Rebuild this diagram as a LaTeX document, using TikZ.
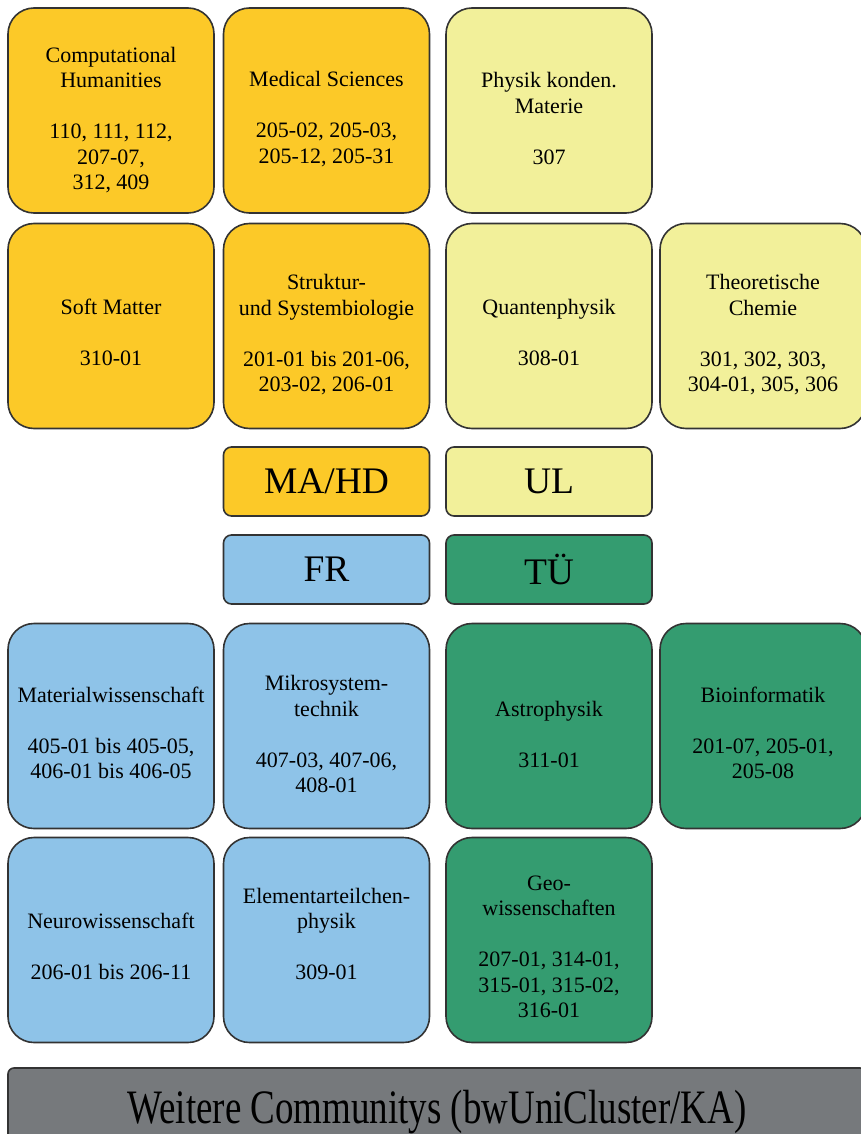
\documentclass[tikz,border=0pt]{standalone}
\usepackage{fontspec}
\setmainfont{Liberation Serif}
\usetikzlibrary{positioning}

\definecolor{mahdyellow}{RGB}{252,201,40}
\definecolor{ulyellow}{RGB}{242,240,154}
\definecolor{frblue}{RGB}{142,195,232}
\definecolor{tuegreen}{RGB}{52,156,112}
\definecolor{kagray}{RGB}{118,121,124}

\begin{document}
\begin{tikzpicture}[
    x=0.5pt, y=-0.5pt,
    every node/.style={font=\fontsize{11}{12.75}\selectfont},
    fieldbox/.style={draw=black!80, line width=0.8pt, rounded corners=13pt, minimum width=103pt, minimum height=102.5pt, inner sep=0pt},
    fieldtext/.style={align=center, inner sep=0pt},
    sitebox/.style={draw=black!80, line width=0.8pt, rounded corners=4pt, align=center, minimum width=103pt, minimum height=34.5pt, inner sep=0pt, font=\fontsize{18.75}{20}\selectfont},
    restbox/.style={draw=black!80, line width=0.8pt, rounded corners=3pt, align=center, minimum width=429pt, minimum height=44pt, inner sep=0pt, fill=kagray, font=\fontsize{24}{28}\selectfont}
]
\useasboundingbox (0,0) rectangle (861,1134);
\clip (0,0) rectangle (861,1134);

% MA/HD
\node[fieldbox, fill=mahdyellow] (comphum) at (111,110.5) {};
\node[fieldtext] (comphumtxt) at (111,120) {Computational\\Humanities\\[12.75pt]110, 111, 112,\\207-07,\\312, 409};
\node[fieldbox, fill=mahdyellow] (medsci) at (326.5,110.5) {};
\node[fieldtext] (medscitxt) at (326.5,119) {Medical Sciences\\[12.75pt]205-02, 205-03,\\205-12, 205-31};
\node[fieldbox, fill=mahdyellow] (softmat) at (111,326) {};
\node[fieldtext] (softmattxt) at (111,332) {Soft Matter\\[12.75pt]310-01};
\node[fieldbox, fill=mahdyellow] (strukbio) at (326.5,326) {};
\node[fieldtext] (strukbiotxt) at (326.5,335) {Struktur-\\und Systembiologie\\[12.75pt]201-01 bis 201-06,\\203-02, 206-01};

% UL
\node[fieldbox, fill=ulyellow] (physkm) at (549,110.5) {};
\node[fieldtext] (physkmtxt) at (549,118.5) {Physik konden.\\Materie\\[12.75pt]307};
\node[fieldbox, fill=ulyellow] (quantph) at (549,326) {};
\node[fieldtext] (quantphtxt) at (549,332) {Quantenphysik\\[12.75pt]308-01};
\node[fieldbox, fill=ulyellow] (theochem) at (763,326) {};
\node[fieldtext] (theochemtxt) at (763,335) {Theoretische\\Chemie\\[12.75pt]301, 302, 303,\\304-01, 305, 306};

% sites
\node[sitebox, fill=mahdyellow] (mahd) at (326.5,481.5) {MA/HD};
\node[sitebox, fill=ulyellow] (ul) at (549,481.5) {UL};
\node[sitebox, fill=frblue] (fr) at (326.5,569.5) {FR};
\node[sitebox, fill=tuegreen] (tue) at (549,569.5) {TÜ};

% FR
\node[fieldbox, fill=frblue] (matwiss) at (111,726) {};
\node[fieldtext] (matwisstxt) at (111,733) {Materialwissenschaft\\[12.75pt]405-01 bis 405-05,\\406-01 bis 406-05};
\node[fieldbox, fill=frblue] (mikrosys) at (326.5,726) {};
\node[fieldtext] (mikrosystxt) at (326.5,734) {Mikrosystem-\\technik\\[12.75pt]407-03, 407-06,\\408-01};
\node[fieldbox, fill=frblue] (neurowiss) at (111,940) {};
\node[fieldtext] (neurowisstxt) at (111,946) {Neurowissenschaft\\[12.75pt]206-01 bis 206-11};
\node[fieldbox, fill=frblue] (elemphys) at (326.5,940) {};
\node[fieldtext] (elemphystxt) at (326.5,934) {Elementarteilchen-\\physik\\[12.75pt]309-01};

% TUE
\node[fieldbox, fill=tuegreen] (astro) at (549,726) {};
\node[fieldtext] (astrotxt) at (549,734) {Astrophysik\\[12.75pt]311-01};
\node[fieldbox, fill=tuegreen] (bioinf) at (763,726) {};
\node[fieldtext] (bioinftxt) at (763,733) {Bioinformatik\\[12.75pt]201-07, 205-01,\\205-08};
\node[fieldbox, fill=tuegreen] (geowiss) at (549,940) {};
\node[fieldtext] (geowisstxt) at (549,947) {Geo-\\wissenschaften\\[12.75pt]207-01, 314-01,\\315-01, 315-02,\\316-01};

\node[restbox] (others) at (437,1112) {\scalebox{0.77}[1]{Weitere Communitys (bwUniCluster/KA)}};
\end{tikzpicture}
\end{document}
